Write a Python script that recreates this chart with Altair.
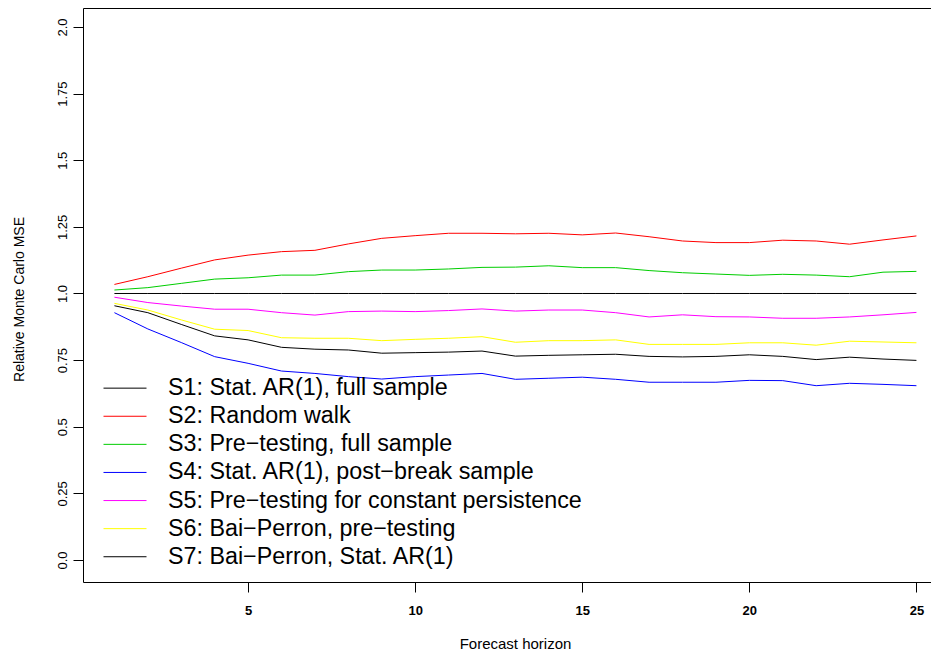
import altair as alt
import pandas as pd

horizon = list(range(1, 26))

labels = [
    "S1: Stat. AR(1), full sample",
    "S2: Random walk",
    "S3: Pre\u2212testing, full sample",
    "S4: Stat. AR(1), post\u2212break sample",
    "S5: Pre\u2212testing for constant persistence",
    "S6: Bai\u2212Perron, pre\u2212testing",
    "S7: Bai\u2212Perron, Stat. AR(1)",
]
colors = ["#000000", "#FF0000", "#00CD00", "#0000FF", "#FF00FF", "#FFFF00", "#000000"]

s1 = [1.0, 1.0, 1.0, 1.0, 1.0, 1.0, 1.0, 1.0, 1.0, 1.0, 1.0, 1.0, 1.0,
      1.0, 1.0, 1.0, 1.0, 1.0, 1.0, 1.0, 1.0, 1.0, 1.0, 1.0, 1.0]
s2 = [1.034, 1.063, 1.095, 1.126, 1.144, 1.157, 1.162, 1.186, 1.207, 1.217, 1.226, 1.226, 1.224,
      1.226, 1.220, 1.227, 1.213, 1.197, 1.191, 1.191, 1.200, 1.197, 1.185, 1.201, 1.216]
s3 = [1.013, 1.022, 1.038, 1.054, 1.059, 1.069, 1.069, 1.082, 1.088, 1.088, 1.092, 1.098, 1.099,
      1.104, 1.097, 1.097, 1.086, 1.078, 1.073, 1.068, 1.072, 1.069, 1.063, 1.080, 1.083]
s4 = [0.928, 0.867, 0.816, 0.763, 0.738, 0.709, 0.700, 0.688, 0.679, 0.688, 0.694, 0.700, 0.678,
      0.682, 0.686, 0.678, 0.667, 0.667, 0.667, 0.674, 0.673, 0.654, 0.663, 0.659, 0.654]
s5 = [0.986, 0.966, 0.953, 0.941, 0.941, 0.928, 0.919, 0.932, 0.934, 0.932, 0.936, 0.942, 0.934,
      0.938, 0.938, 0.928, 0.912, 0.920, 0.913, 0.912, 0.907, 0.907, 0.912, 0.920, 0.929]
s6 = [0.963, 0.938, 0.901, 0.866, 0.861, 0.834, 0.832, 0.832, 0.823, 0.828, 0.832, 0.838, 0.817,
      0.823, 0.823, 0.826, 0.809, 0.809, 0.809, 0.815, 0.815, 0.806, 0.821, 0.818, 0.815]
s7 = [0.954, 0.928, 0.884, 0.841, 0.826, 0.798, 0.791, 0.788, 0.776, 0.778, 0.780, 0.784, 0.765,
      0.768, 0.770, 0.772, 0.764, 0.762, 0.764, 0.770, 0.764, 0.752, 0.761, 0.754, 0.749]

x_ticks = [5, 10, 15, 20, 25]
y_ticks = [0.0, 0.25, 0.5, 0.75, 1.0, 1.25, 1.5, 1.75, 2.0]

series = [s1, s2, s3, s4, s5, s6, s7]
rows = []
for k, (name, vals) in enumerate(zip(labels, series)):
    for h, v in zip(horizon, vals):
        rows.append({"h": h, "v": v, "s": name, "k": k})
df = pd.DataFrame(rows)

FONT = "Liberation Sans"
x_scale = alt.Scale(domain=[0.06, 25.436], nice=False, zero=False)
y_scale = alt.Scale(domain=[-0.0826, 2.0713], nice=False, zero=False)

lines = alt.Chart(df).mark_line(strokeWidth=1, clip=True).encode(
    x=alt.X(
        "h:Q", scale=x_scale,
        axis=alt.Axis(
            values=x_ticks, title="Forecast horizon", grid=False,
            labelFontWeight="bold", labelFontSize=13, labelFont=FONT, labelColor="black",
            labelPadding=12, tickSize=10, tickColor="black", domainColor="black",
            titleFont=FONT, titleFontSize=15, titleFontWeight="normal", titleColor="black",
            titleX=432, titleY=66, titleBaseline="alphabetic", titleAnchor="middle", titleAlign="center",
        ),
    ),
    y=alt.Y(
        "v:Q", scale=y_scale,
        axis=alt.Axis(
            values=y_ticks, title="Relative Monte Carlo MSE", grid=False,
            labelExpr="datum.value % 0.5 == 0 ? format(datum.value, '.1f') : format(datum.value, '.2f')",
            labelAngle=270, labelAlign="center", labelBaseline="alphabetic",
            labelFontSize=13, labelFont=FONT, labelColor="black", labelPadding=6.5,
            tickSize=10, tickColor="black", domainColor="black",
            titleFont=FONT, titleFontSize=14, titleFontWeight="normal", titleColor="black",
            titleAngle=270, titleX=-60, titleY=291, titleBaseline="alphabetic", titleAlign="center",
        ),
    ),
    color=alt.Color(
        "s:N",
        scale=alt.Scale(domain=labels, range=colors),
        sort=labels,
        legend=alt.Legend(
            orient="none", legendX=20, legendY=368.5, title=None,
            symbolType="stroke", symbolSize=1849, symbolStrokeWidth=1,
            labelFont=FONT, labelFontSize=23.3, labelColor="black", labelLimit=0,
            labelOffset=21, rowPadding=3.1, clipHeight=23.3, padding=0, symbolOffset=0,
        ),
    ),
    detail="k:N",
)

top = alt.Chart(df).mark_line(opacity=0).encode(
    x=alt.X("h:Q", scale=x_scale,
            axis=alt.Axis(orient="top", labels=False, ticks=False, title=None,
                          grid=False, domainColor="black")),
    y=alt.Y("v:Q", scale=y_scale),
    detail="k:N",
)

chart = alt.layer(lines, top).resolve_axis(x="independent").properties(
    width=848, height=574,
    autosize=alt.AutoSizeParams(type="none"),
    padding={"left": 75, "top": 0, "right": 0, "bottom": 70},
).configure_view(stroke=None)

chart.save("out.html", embed_options={"renderer": "svg", "actions": False})
